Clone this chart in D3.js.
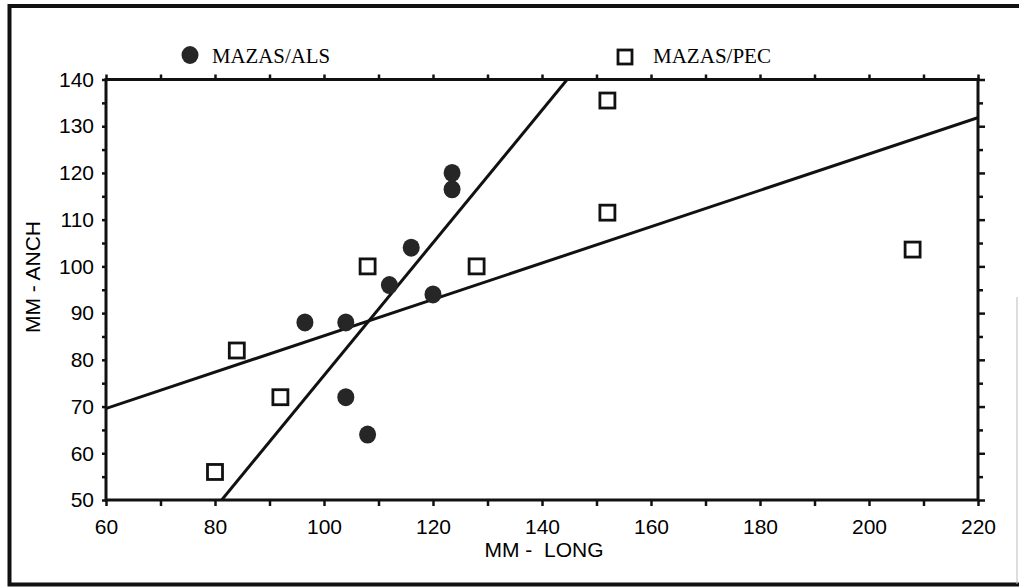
<!DOCTYPE html>
<html>
<head>
<meta charset="utf-8">
<script src="https://cdn.jsdelivr.net/npm/d3@7"></script>
<style>
  body { margin: 0; background: #fff; }
  svg { display: block; }
</style>
</head>
<body>
<svg id="chart" width="1019" height="587"></svg>
<script>
// MAZAS/ALS (filled circles)
const alsLong = [96.5, 104, 104, 108, 112, 116, 120, 123.5, 123.5];
const alsAnch = [88, 88, 72, 64, 96, 104, 94, 120, 116.5];
// MAZAS/PEC (open squares)
const pecLong = [80, 84, 92, 108, 128, 152, 152, 208];
const pecAnch = [56, 82, 72, 100, 100, 135.5, 111.5, 103.6];

const xTicks = [60, 80, 100, 120, 140, 160, 180, 200, 220];
const yTicks = [50, 60, 70, 80, 90, 100, 110, 120, 130, 140];
const legendLabels = ['MAZAS/ALS', 'MAZAS/PEC'];

const svg = d3.select('#chart');
const plotLeft = 106, plotRight = 978, plotTop = 79.5, plotBottom = 500;

const x = d3.scaleLinear().domain([60, 220]).range([plotLeft, plotRight]);
const y = d3.scaleLinear().domain([50, 140]).range([plotBottom, plotTop]);

// outer frame (right edge runs off the page)
svg.append('path')
  .attr('d', 'M1030,6 H9.5 V584.5 H1030')
  .attr('fill', 'none')
  .attr('stroke', '#111')
  .attr('stroke-width', 4);
svg.append('line')
  .attr('x1', 1017).attr('x2', 1017).attr('y1', 297).attr('y2', 584)
  .attr('stroke', '#bbb').attr('stroke-width', 1);

// least squares line, computed from the points
function fit(xs, ys) {
  const mx = d3.mean(xs), my = d3.mean(ys);
  let sxy = 0, sxx = 0;
  xs.forEach((v, i) => {
    sxy += (v - mx) * (ys[i] - my);
    sxx += (v - mx) * (v - mx);
  });
  const b = sxy / sxx;
  return { b, a: my - b * mx };
}

svg.append('clipPath').attr('id', 'plot')
  .append('rect')
  .attr('x', plotLeft).attr('y', plotTop)
  .attr('width', plotRight - plotLeft).attr('height', plotBottom - plotTop);

const lines = svg.append('g').attr('clip-path', 'url(#plot)');
[fit(alsLong, alsAnch), fit(pecLong, pecAnch)].forEach((f) => {
  lines.append('line')
    .attr('x1', x(40)).attr('y1', y(f.a + f.b * 40))
    .attr('x2', x(240)).attr('y2', y(f.a + f.b * 240))
    .attr('stroke', '#111')
    .attr('stroke-width', 3);
});

// axes: major + minor ticks on all four sides
const minorX = d3.range(70, 220, 20);
const minorY = d3.range(55, 140, 10);

function styleAxis(g) {
  g.select('.domain').remove();
  g.selectAll('line').attr('stroke', '#111').attr('stroke-width', 2.5);
  g.selectAll('text')
    .attr('fill', '#000')
    .style('font-family', 'Liberation Sans, Arial, sans-serif')
    .style('font-size', '21px');
}

svg.append('g')
  .attr('transform', `translate(0,${plotBottom})`)
  .call(d3.axisBottom(x).tickValues(xTicks).tickSize(6).tickPadding(13))
  .call(styleAxis);
svg.append('g')
  .attr('transform', `translate(0,${plotBottom})`)
  .call(d3.axisBottom(x).tickValues(minorX).tickSize(6).tickFormat(''))
  .call(styleAxis);
svg.append('g')
  .attr('transform', `translate(0,${plotTop})`)
  .call(d3.axisTop(x).tickValues(xTicks.concat(minorX)).tickSize(5).tickFormat(''))
  .call(styleAxis);

svg.append('g')
  .attr('transform', `translate(${plotLeft},0)`)
  .call(d3.axisLeft(y).tickValues(yTicks).tickSize(4).tickPadding(8))
  .call(styleAxis);
svg.append('g')
  .attr('transform', `translate(${plotLeft},0)`)
  .call(d3.axisLeft(y).tickValues(minorY).tickSize(4).tickFormat(''))
  .call(styleAxis);
svg.append('g')
  .attr('transform', `translate(${plotRight},0)`)
  .call(d3.axisRight(y).tickValues(yTicks).tickSize(7).tickFormat(''))
  .call(styleAxis);
svg.append('g')
  .attr('transform', `translate(${plotRight},0)`)
  .call(d3.axisRight(y).tickValues(minorY).tickSize(5).tickFormat(''))
  .call(styleAxis);

// plot frame
svg.append('rect')
  .attr('x', plotLeft).attr('y', plotTop)
  .attr('width', plotRight - plotLeft).attr('height', plotBottom - plotTop)
  .attr('fill', 'none')
  .attr('stroke', '#111')
  .attr('stroke-width', 3);

// axis titles
svg.append('text')
  .attr('x', 544).attr('y', 557)
  .attr('text-anchor', 'middle')
  .style('font-family', 'Liberation Sans, Arial, sans-serif')
  .style('font-size', '21px')
  .attr('fill', '#000')
  .attr('xml:space', 'preserve')
  .text('MM -  LONG');
svg.append('text')
  .attr('transform', 'translate(40,277) rotate(-90)')
  .attr('text-anchor', 'middle')
  .style('font-family', 'Liberation Sans, Arial, sans-serif')
  .style('font-size', '21px')
  .attr('fill', '#000')
  .text('MM - ANCH');

// points
svg.append('g').selectAll('ellipse')
  .data(alsLong)
  .join('ellipse')
  .attr('cx', (d) => x(d))
  .attr('cy', (d, i) => y(alsAnch[i]))
  .attr('rx', 8.5)
  .attr('ry', 9)
  .attr('fill', '#262626');

svg.append('g').selectAll('rect')
  .data(pecLong)
  .join('rect')
  .attr('x', (d) => x(d) - 7.5)
  .attr('y', (d, i) => y(pecAnch[i]) - 7.5)
  .attr('width', 15)
  .attr('height', 15)
  .attr('fill', '#fff')
  .attr('stroke', '#111')
  .attr('stroke-width', 2.8);

// legend
const legend = svg.append('g');
legend.append('ellipse')
  .attr('cx', 190).attr('cy', 55).attr('rx', 8.5).attr('ry', 9)
  .attr('fill', '#262626');
legend.append('rect')
  .attr('x', 618).attr('y', 50).attr('width', 14).attr('height', 14)
  .attr('fill', '#fff').attr('stroke', '#111').attr('stroke-width', 2.8);
[[212, legendLabels[0]], [653, legendLabels[1]]].forEach(([lx, label]) => {
  legend.append('text')
    .attr('x', lx).attr('y', 63)
    .style('font-family', 'Liberation Serif, Times New Roman, serif')
    .style('font-size', '22px')
    .attr('textLength', 118)
    .attr('lengthAdjust', 'spacingAndGlyphs')
    .attr('fill', '#000')
    .text(label);
});
</script>
</body>
</html>
